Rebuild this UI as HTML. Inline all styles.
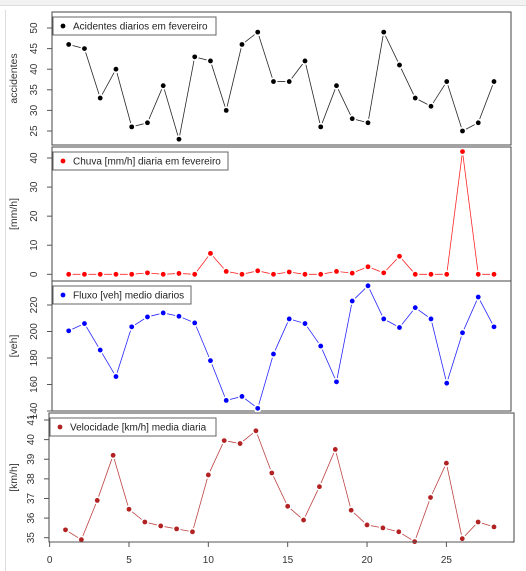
<!DOCTYPE html>
<html><head><meta charset="utf-8"><style>
body{margin:0;background:#fff;}
svg{display:block;font-family:"Liberation Sans",sans-serif;}
</style></head><body>
<svg id="c" width="526" height="571">
<rect x="0" y="0" width="526" height="5" fill="#f2f2f2"/>
<line x1="0" y1="5.5" x2="526" y2="5.5" stroke="#ddd"/>
<line x1="5.5" y1="10" x2="5.5" y2="571" stroke="#ddd"/>
</svg>
<script>
const days = [1,2,3,4,5,6,7,8,9,10,11,12,13,14,15,16,17,18,19,20,21,22,23,24,25,26,27,28];
const accidents = [46,45,33,40,26,27,36,23,43,42,30,46,49,37,37,42,26,36,28,27,49,41,33,31,37,25,27,37];
const rain = [0,0,0,0,0,0.5,0,0.3,0,7.2,1,0,1.2,0,0.8,0,0,1,0.4,2.6,0.5,6.2,0,0,0,42.2,0,0];
const flow = [200.5,206,186,166,203.5,211,214,211.5,206.5,178,148,151,142,183,209.5,206,189,162,223,234.5,209.5,203,218,209.5,161,199,226,203.5];
const speed = [35.4,34.9,36.9,39.2,36.45,35.8,35.6,35.45,35.3,38.2,39.95,39.8,40.45,38.3,36.6,35.9,37.6,39.5,36.4,35.65,35.5,35.3,34.8,37.05,38.8,34.95,35.8,35.55];
const accTicks = [25,30,35,40,45,50];
const rainTicks = [0,10,20,30,40];
const flowTicks = [140,160,180,200,220];
const speedTicks = [35,36,37,38,39,40,41];
const xTicks = [0,5,10,15,20,25];

const NS='http://www.w3.org/2000/svg';
const svg=document.getElementById('c');
function mk(tag,attrs,parent){const e=document.createElementNS(NS,tag);for(const k in attrs)e.setAttribute(k,attrs[k]);(parent||svg).appendChild(e);return e;}

const panels=[
 {key:'accidents',data:accidents,ticks:accTicks,color:'#000',label:'accidentes',legend:'Acidentes diarios em fevereiro',
  box:[52,12,511,145],x1:68.7,x28:494,v0:25,y0:131,v1:50,y1:28,lw:163},
 {key:'rain',data:rain,ticks:rainTicks,color:'#ff0000',label:'[mm/h]',legend:'Chuva [mm/h] diaria em fevereiro',
  box:[52,147,511,281],x1:68.7,x28:494,v0:0,y0:274.3,v1:40,y1:158,lw:175},
 {key:'flow',data:flow,ticks:flowTicks,color:'#0000ff',label:'[veh]',legend:'Fluxo [veh] medio diarios',
  box:[52,281,511,411],x1:68.7,x28:494,v0:140,y0:411,v1:220,y1:305,lw:138},
 {key:'speed',data:speed,ticks:speedTicks,color:'#b22222',label:'[km/h]',legend:'Velocidade [km/h] media diaria',
  box:[49,413,514,542],x1:65.5,x28:494,v0:35,y0:537.7,v1:41,y1:420,lw:166}
];

panels.forEach(p=>{
  const g=mk('g',{});
  
  
  const [L,T,R,B]=p.box;
  const bg=mk('rect',{x:L,y:T,width:R-L,height:B-T,fill:'#fff',stroke:'#444','stroke-width':1},g);
  
  
  const xs=d=>p.x1+(d-1)*(p.x28-p.x1)/27;
  const ys=v=>p.y0+(v-p.v0)*(p.y1-p.y0)/(p.v1-p.v0);
  p.ticks.forEach(t=>{
    const y=ys(t);
    const tk=mk('line',{x1:L-5,y1:y,x2:L,y2:y,stroke:'#555'},g);
    
    
    const lx=L-15;
    const tx=mk('text',{x:lx,y:y,'font-size':10,fill:'#333','text-anchor':'middle',transform:`rotate(-90 ${lx} ${y})`},g);
    tx.textContent=t;
    
    
  });
  const yl=(T+B)/2;
  const lab=mk('text',{x:13,y:yl,'font-size':10.5,fill:'#333','text-anchor':'middle',transform:`rotate(-90 13 ${yl})`,dy:'4'},g);
  lab.textContent=p.label;
  
  
  const pts=p.data.map((v,i)=>xs(days[i])+','+ys(v)).join(' ');
  const line=mk('polyline',{points:pts,fill:'none',stroke:p.color,'stroke-width':0.8,opacity:0.85},g);
  
  
  p.data.forEach((v,i)=>{
    mk('circle',{cx:xs(days[i]),cy:ys(v),r:4,fill:'#fff'},g);
    const c=mk('circle',{cx:xs(days[i]),cy:ys(v),r:2.4,fill:p.color},g);
    
    
  });
  const lg=mk('g',{},g);
  
  
  mk('rect',{x:L+1,y:T+5,width:p.lw,height:18,fill:'#fff',stroke:'#666'},lg);
  mk('circle',{cx:L+11,cy:T+14,r:2.4,fill:p.color},lg);
  const lt=mk('text',{x:L+21,y:T+17.5,'font-size':10,fill:'#222'},lg);
  lt.textContent=p.legend;
});

const P=panels[3];
const xs4=d=>P.x1+(d-1)*(P.x28-P.x1)/27;
const ax=mk('line',{x1:xs4(0),y1:542,x2:511,y2:542,stroke:'#555'});


xTicks.forEach(t=>{
  const x=xs4(t);
  const tk=mk('line',{x1:x,y1:542,x2:x,y2:547,stroke:'#555'});
  
  
  const tx=mk('text',{x:x,y:563,'font-size':10,fill:'#333','text-anchor':'middle'});
  tx.textContent=t;
  
  
});
</script>
</body></html>
